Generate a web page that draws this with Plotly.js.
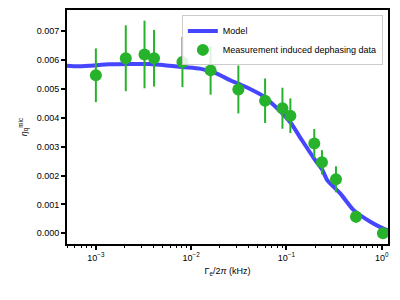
<!DOCTYPE html>
<html>
<head>
<meta charset="utf-8">
<script src="https://cdn.plot.ly/plotly-3.0.1.min.js"></script>
<style>html,body{margin:0;padding:0;background:#fff;}#chart{width:400px;height:300px;}</style>
</head>
<body>
<div id="chart"></div>
<script>
// Measurement data
const dataX = [0.001, 0.00206, 0.00324, 0.00408, 0.0081, 0.016, 0.0313, 0.0597, 0.0908, 0.110, 0.196, 0.236, 0.331, 0.537, 1.03];
const dataY = [0.00547, 0.00606, 0.00619, 0.00606, 0.00593, 0.00564, 0.00498, 0.00459, 0.00433, 0.00407, 0.00311, 0.00246, 0.00187, 0.00057, 0.00000];
const dataErr = [0.00093, 0.00114, 0.00117, 0.00098, 0.00087, 0.00084, 0.00083, 0.00077, 0.00071, 0.00060, 0.00050, 0.00042, 0.00045, 0.00020, 0.00010];

// Model curve
const modelX = [0.000498, 0.000641, 0.000859, 0.00139, 0.00226, 0.00367, 0.00597, 0.00859, 0.01236, 0.0178, 0.0257, 0.0367, 0.0569, 0.0759, 0.0968, 0.1122, 0.145, 0.1995, 0.2377, 0.268, 0.367, 0.504, 0.759, 1.03, 1.16];
const modelY = [0.00580, 0.00578, 0.00580, 0.00585, 0.00586, 0.00586, 0.00580, 0.00575, 0.00570, 0.00555, 0.00530, 0.00508, 0.00475, 0.00440, 0.00405, 0.00380, 0.00323, 0.00254, 0.00220, 0.00184, 0.00138, 0.00081, 0.00040, 0.00017, 0.00010];

// Tick labels
const xTickVals = [0.001, 0.01, 0.1, 1];
const xTickText = ['10<sup>−3</sup>', '10<sup>−2</sup>', '10<sup>−1</sup>', '10<sup>0</sup>'];
const yTickVals = [0, 0.001, 0.002, 0.003, 0.004, 0.005, 0.006, 0.007];

const seriesNames = ['Model', 'Measurement induced dephasing data'];

const minorVals = [];
for (let e = -4; e <= 0; e++) {
  for (let m = 2; m <= 9; m++) minorVals.push(m * Math.pow(10, e));
}

const traces = [
  {
    x: modelX, y: modelY, type: 'scatter', mode: 'lines', name: seriesNames[0],
    line: {color: 'rgba(60,60,255,0.95)', width: 4, shape: 'spline', smoothing: 0.6}
  },
  {
    x: dataX, y: dataY, type: 'scatter', mode: 'markers', name: seriesNames[1],
    marker: {color: '#27b22c', size: 12},
    error_y: {type: 'data', array: dataErr, visible: true, color: '#27b22c', thickness: 2, width: 0}
  }
];

const layout = {
  width: 400, height: 300,
  margin: {l: 67, r: 12, t: 10, b: 56, pad: 0},
  paper_bgcolor: '#fff', plot_bgcolor: '#fff',
  font: {family: 'Liberation Sans, Arial, sans-serif', size: 9, color: '#000'},
  showlegend: true,
  legend: {
    x: 0.984, y: 0.977, xanchor: 'right', yanchor: 'top',
    bgcolor: 'rgba(255,255,255,0.85)', bordercolor: '#cccccc', borderwidth: 1,
    font: {size: 9}, itemwidth: 30, tracegroupgap: 0
  },
  xaxis: {
    type: 'log', range: [-3.303, 0.066],
    tickvals: xTickVals, ticktext: xTickText,
    ticks: 'outside', ticklen: 4, tickwidth: 2, tickcolor: '#000',
    minor: {tickvals: minorVals, ticks: 'outside', ticklen: 2, tickwidth: 1, tickcolor: '#000', showgrid: false},
    showline: true, linecolor: '#000', linewidth: 2, mirror: true,
    showgrid: false, zeroline: false,
    tickfont: {size: 9},
    title: {text: 'Γ<sub>e</sub>/2<i>π</i> (kHz)', font: {size: 9}, standoff: 6}
  },
  yaxis: {
    range: [-0.00037, 0.00773],
    tickvals: yTickVals, tickformat: '.3f',
    ticks: 'outside', ticklen: 4, tickwidth: 2, tickcolor: '#000',
    showline: true, linecolor: '#000', linewidth: 2, mirror: true,
    showgrid: false, zeroline: false,
    tickfont: {size: 9},
    title: {text: '<i>η</i><sub>q</sub><sup>mic</sup>', font: {size: 9}, standoff: 8}
  }
};

Plotly.newPlot('chart', traces, layout, {displayModeBar: false, staticPlot: true});
</script>
</body>
</html>
